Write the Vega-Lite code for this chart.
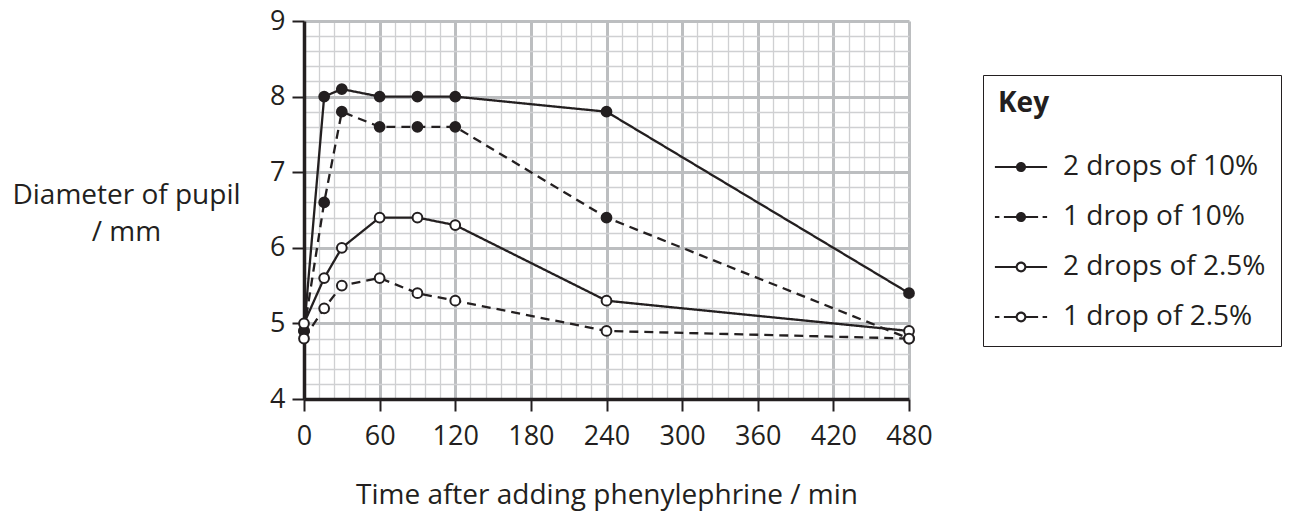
{
  "$schema": "https://vega.github.io/schema/vega-lite/v6.json",
  "width": 605,
  "height": 378,
  "autosize": {"type": "none"},
  "padding": {"left": 304, "top": 21, "right": 397, "bottom": 114},
  "background": "white",
  "config": {
    "view": {"stroke": null},
    "font": "Open Sans"
  },
  "data": {
    "values": [
      {"time": 0, "diameter": 4.9, "series": "2 drops of 10%"},
      {"time": 16, "diameter": 8.0, "series": "2 drops of 10%"},
      {"time": 30, "diameter": 8.1, "series": "2 drops of 10%"},
      {"time": 60, "diameter": 8.0, "series": "2 drops of 10%"},
      {"time": 90, "diameter": 8.0, "series": "2 drops of 10%"},
      {"time": 120, "diameter": 8.0, "series": "2 drops of 10%"},
      {"time": 240, "diameter": 7.8, "series": "2 drops of 10%"},
      {"time": 480, "diameter": 5.4, "series": "2 drops of 10%"},
      {"time": 0, "diameter": 4.9, "series": "1 drop of 10%"},
      {"time": 16, "diameter": 6.6, "series": "1 drop of 10%"},
      {"time": 30, "diameter": 7.8, "series": "1 drop of 10%"},
      {"time": 60, "diameter": 7.6, "series": "1 drop of 10%"},
      {"time": 90, "diameter": 7.6, "series": "1 drop of 10%"},
      {"time": 120, "diameter": 7.6, "series": "1 drop of 10%"},
      {"time": 240, "diameter": 6.4, "series": "1 drop of 10%"},
      {"time": 480, "diameter": 4.8, "series": "1 drop of 10%"},
      {"time": 0, "diameter": 5.0, "series": "2 drops of 2.5%"},
      {"time": 16, "diameter": 5.6, "series": "2 drops of 2.5%"},
      {"time": 30, "diameter": 6.0, "series": "2 drops of 2.5%"},
      {"time": 60, "diameter": 6.4, "series": "2 drops of 2.5%"},
      {"time": 90, "diameter": 6.4, "series": "2 drops of 2.5%"},
      {"time": 120, "diameter": 6.3, "series": "2 drops of 2.5%"},
      {"time": 240, "diameter": 5.3, "series": "2 drops of 2.5%"},
      {"time": 480, "diameter": 4.9, "series": "2 drops of 2.5%"},
      {"time": 0, "diameter": 4.8, "series": "1 drop of 2.5%"},
      {"time": 16, "diameter": 5.2, "series": "1 drop of 2.5%"},
      {"time": 30, "diameter": 5.5, "series": "1 drop of 2.5%"},
      {"time": 60, "diameter": 5.6, "series": "1 drop of 2.5%"},
      {"time": 90, "diameter": 5.4, "series": "1 drop of 2.5%"},
      {"time": 120, "diameter": 5.3, "series": "1 drop of 2.5%"},
      {"time": 240, "diameter": 4.9, "series": "1 drop of 2.5%"},
      {"time": 480, "diameter": 4.8, "series": "1 drop of 2.5%"}
    ]
  },
  "encoding": {
    "x": {
      "field": "time",
      "type": "quantitative",
      "scale": {"domain": [0, 480], "nice": false, "zero": false},
      "axis": {
        "title": "Time after adding phenylephrine / min",
        "values": [0,12,24,36,48,60,72,84,96,108,120,132,144,156,168,180,192,204,216,228,240,252,264,276,288,300,312,324,336,348,360,372,384,396,408,420,432,444,456,468,480],
        "labelExpr": "datum.value % 60 === 0 ? datum.label : ''",
        "labelOverlap": false,
        "labelFlush": false,
        "labelFont": "Open Sans",
        "labelFontSize": 27,
        "labelColor": "#231f20",
        "labelBaseline": "alphabetic",
        "labelPadding": 33,
        "tickSize": 12,
        "tickWidth": 2,
        "tickColor": "#231f20",
        "tickOpacity": {"condition": {"test": "datum.value % 60 === 0", "value": 1}, "value": 0},
        "domainColor": "#231f20",
        "domainWidth": 3.5,
        "grid": true,
        "gridColor": {"condition": {"test": "datum.value % 60 === 0", "value": "#bcbec0"}, "value": "#cfd0d2"},
        "gridWidth": {"condition": {"test": "datum.value % 60 === 0", "value": 3}, "value": 1.3},
        "gridOpacity": {"condition": {"test": "datum.value === 0", "value": 0}, "value": 1},
        "titleFont": "Open Sans",
        "titleFontSize": 28,
        "titleFontWeight": "normal",
        "titleColor": "#231f20",
        "titleBaseline": "alphabetic",
        "titleY": 104,
        "zindex": 0
      }
    },
    "y": {
      "field": "diameter",
      "type": "quantitative",
      "scale": {"domain": [4, 9], "nice": false, "zero": false},
      "axis": {
        "title": ["Diameter of pupil", "/ mm"],
        "values": [4,4.2,4.4,4.6,4.8,5,5.2,5.4,5.6,5.8,6,6.2,6.4,6.6,6.8,7,7.2,7.4,7.6,7.8,8,8.2,8.4,8.6,8.8,9],
        "labelExpr": "datum.value % 1 === 0 ? format(datum.value, 'd') : ''",
        "labelOverlap": false,
        "labelFlush": false,
        "labelFont": "Open Sans",
        "labelFontSize": 27,
        "labelColor": "#231f20",
        "labelPadding": 7,
        "tickSize": 12,
        "tickWidth": 2,
        "tickColor": "#231f20",
        "tickOpacity": {"condition": {"test": "datum.value % 1 === 0", "value": 1}, "value": 0},
        "domainColor": "#231f20",
        "domainWidth": 3.5,
        "grid": true,
        "gridColor": {"condition": {"test": "datum.value % 1 === 0", "value": "#bcbec0"}, "value": "#cfd0d2"},
        "gridWidth": {"condition": {"test": "datum.value % 1 === 0", "value": 3}, "value": 1.3},
        "gridOpacity": {"condition": {"test": "datum.value === 4", "value": 0}, "value": 1},
        "titleFont": "Open Sans",
        "titleFontSize": 28,
        "titleFontWeight": "normal",
        "titleColor": "#231f20",
        "titleAngle": 0,
        "titleAlign": "center",
        "titleBaseline": "alphabetic",
        "titleLineHeight": 37,
        "titleX": -178,
        "titleY": 182,
        "zindex": 0
      }
    }
  },
  "layer": [
    {
      "mark": {"type": "line", "color": "#231f20", "strokeWidth": 2.3, "strokeCap": "butt"},
      "encoding": {
        "strokeDash": {
          "field": "series",
          "type": "nominal",
          "scale": {
            "range": [[9, 6], [9, 6], [1, 0], [1, 0]]
          },
          "legend": null
        }
      }
    },
    {
      "mark": {"type": "circle", "size": 95, "stroke": "#231f20", "strokeWidth": 2, "opacity": 1},
      "encoding": {
        "fill": {
          "field": "series",
          "type": "nominal",
          "scale": {
            "range": ["#231f20", "white", "#231f20", "white"]
          },
          "legend": null
        }
      }
    },
    {
      "transform": [{"filter": "false"}],
      "mark": {"type": "point", "filled": true, "color": "#231f20", "size": 324, "opacity": 1, "strokeWidth": 0},
      "encoding": {
        "shape": {
          "field": "series",
          "type": "nominal",
          "scale": {
            "domain": ["2 drops of 10%", "1 drop of 10%", "2 drops of 2.5%", "1 drop of 2.5%"],
            "range": [
              "M-2.9,-0.12H-0.5V0.12H-2.9ZM0.5,-0.12H2.9V0.12H0.5ZM-0.56,0A0.56,0.56,0,1,1,0.56,0A0.56,0.56,0,1,1,-0.56,0Z",
              "M-2.9,-0.12H-2.4V0.12H-2.9ZM-1.9,-0.12H-0.5V0.12H-1.9ZM0.5,-0.12H1.9V0.12H0.5ZM2.4,-0.12H2.9V0.12H2.4ZM-0.56,0A0.56,0.56,0,1,1,0.56,0A0.56,0.56,0,1,1,-0.56,0Z",
              "M-2.9,-0.12H-0.58V0.12H-2.9ZM0.58,-0.12H2.9V0.12H0.58ZM-0.6,0A0.6,0.6,0,1,1,0.6,0A0.6,0.6,0,1,1,-0.6,0ZM-0.37,0A0.37,0.37,0,1,0,0.37,0A0.37,0.37,0,1,0,-0.37,0Z",
              "M-2.9,-0.12H-2.4V0.12H-2.9ZM-1.9,-0.12H-0.58V0.12H-1.9ZM0.58,-0.12H1.9V0.12H0.58ZM2.4,-0.12H2.9V0.12H2.4ZM-0.6,0A0.6,0.6,0,1,1,0.6,0A0.6,0.6,0,1,1,-0.6,0ZM-0.37,0A0.37,0.37,0,1,0,0.37,0A0.37,0.37,0,1,0,-0.37,0Z"
            ]
          },
          "legend": {
            "title": "Key",
            "orient": "none",
            "legendX": 679,
            "legendY": 54,
            "direction": "vertical",
            "padding": 15,
            "strokeColor": "#231f20",
            "fillColor": "white",
            "titleFont": "Open Sans",
            "titleFontSize": 28,
            "titleFontWeight": "bold",
            "titleColor": "#231f20",
            "titleLimit": 2000,
            "titlePadding": 35,
            "labelFont": "Open Sans",
            "labelFontSize": 28,
            "labelColor": "#231f20",
            "labelLimit": 1000,
            "labelExpr": "datum.label + '\u00a0\u00a0\u00a0\u00a0\u00a0\u00a0\u00a0\u00a0\u00a0\u00a0\u00a0\u00a0'",
            "labelOffset": 28,
            "symbolOffset": 9,
            "symbolSize": 324,
            "symbolStrokeWidth": 0,
            "symbolFillColor": "#231f20",
            "symbolOpacity": 1,
            "rowPadding": 22
          }
        }
      }
    }
  ]
}
